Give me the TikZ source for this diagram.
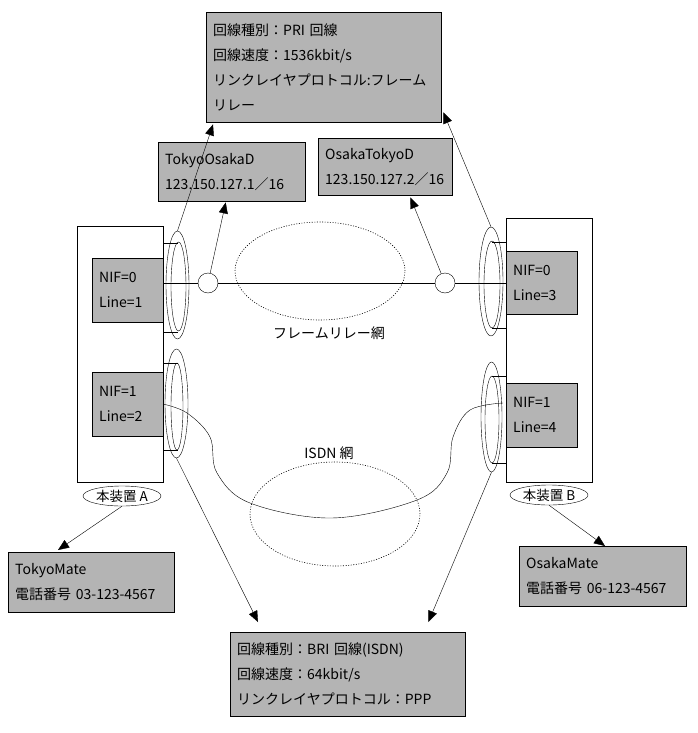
\documentclass[tikz,border=0pt]{standalone}
\usepackage{fontspec}
\setmainfont{Noto Sans CJK JP}
\usepackage{tikz}
\usetikzlibrary{arrows.meta, positioning, shapes.geometric, calc}
\usepackage{xcolor}
\definecolor{boxgray}{RGB}{180,180,180}

\begin{document}
\begin{tikzpicture}[
    x=1pt, y=-1pt,
    info/.style={
        rectangle, draw, fill=boxgray,
        anchor=north west, align=left,
        inner xsep=7pt, inner ysep=0pt,
        font=\fontsize{14}{25}\selectfont
    },
    dev/.style={rectangle, draw, fill=white, anchor=north west, inner sep=0pt},
    ring/.style={ellipse, draw, inner sep=0pt},
    port/.style={circle, draw, fill=white, minimum size=20pt, inner sep=0pt},
    cloud/.style={ellipse, draw, line width=0.6pt, dash pattern=on 1pt off 1.6pt, inner sep=0pt},
    tag/.style={ellipse, draw, inner sep=0pt, minimum width=78pt, minimum height=20pt,
        font=\fontsize{13.5}{15}\selectfont},
    netlbl/.style={font=\fontsize{14}{15}\selectfont},
    arr/.style={-{Triangle[length=11pt,width=9pt]}}
]
\useasboundingbox (0,0) rectangle (698,733);

% === GERAET A ===

\node[dev, minimum width=86pt, minimum height=256pt] (devA) at (77,226) {};
\node[info, minimum width=71pt, minimum height=64pt, text width=57pt] (nifA0) at (92,258) {NIF=0\\Line=1};
\node[info, minimum width=71pt, minimum height=64pt, text width=57pt] (nifA1) at (92,372) {NIF=1\\Line=2};
\node[tag] (tagA) at (122,496) {本装置 A};

% === GERAET B ===

\node[dev, minimum width=86pt, minimum height=264pt] (devB) at (506,218) {};
\node[info, minimum width=71pt, minimum height=63pt, text width=57pt] (nifB0) at (506,251) {NIF=0\\Line=3};
\node[info, minimum width=71pt, minimum height=64pt, text width=57pt] (nifB1) at (506,383) {NIF=1\\Line=4};
\node[tag] (tagB) at (549,495) {本装置 B};

% === LEITUNGEN ===

\node[ring, minimum width=23pt, minimum height=108pt] (aFo) at (177.5,285) {};
\node[ring, minimum width=15pt, minimum height=89pt] (aFi) at (178.5,286.5) {};
\node[ring, minimum width=23pt, minimum height=109pt] (aIo) at (176.5,403.5) {};
\node[ring, minimum width=12pt, minimum height=87pt] (aIi) at (177,406.5) {};
\node[ring, minimum width=24pt, minimum height=109pt] (bFo) at (491,281.5) {};
\node[ring, minimum width=16pt, minimum height=87pt] (bFi) at (492,284.5) {};
\node[ring, minimum width=21pt, minimum height=110pt] (bIo) at (491.5,417) {};
\node[ring, minimum width=14pt, minimum height=87pt] (bIi) at (492,419.5) {};

\draw (163,243) -- (178,243);
\draw (163,332) -- (178,332);
\draw (163,363) -- (178,363);
\draw (163,450) -- (178,450);
\draw (492,242) -- (506,242);
\draw (492,328) -- (506,328);
\draw (492,376) -- (506,376);
\draw (492,463) -- (506,463);

% === NETZE ===

\node[cloud, minimum width=170pt, minimum height=98pt] (frNet) at (320,271) {};
\node[cloud, minimum width=170pt, minimum height=104pt] (isdnNet) at (335,514) {};
\node[netlbl] (frLbl) at (329,333) {フレームリレー網};
\node[netlbl] (isdnLbl) at (329,453) {ISDN 網};

\coordinate (frA) at (163,283);
\coordinate (frB) at (506,283);
\node[port] (cirA) at (208,283) {};
\node[port] (cirB) at (445,283) {};
\draw (frA) -- (cirA);
\draw (cirA) -- (cirB);
\draw (cirB) -- (frB);

\coordinate (isA) at (163,404);
\coordinate (isB) at (503,403);
\draw plot[smooth, tension=0.6] coordinates {(isA) (187,413) (210,437) (217,473) (250,503)
    (332,518) (417,500) (447,473) (453,437) (470,410) (isB)};

% === INFO ===

\node[info, minimum width=235pt, minimum height=110pt, text width=221pt] (pri) at (206,12) {%
回線種別：PRI 回線\\
回線速度：1536kbit/s\\
リンクレイヤプロトコル:フレーム\\
リレー};

\node[info, minimum width=147pt, minimum height=59pt, text width=133pt] (tod) at (158,142) {%
TokyoOsakaD\\
123.150.127.1／16};

\node[info, minimum width=134pt, minimum height=57pt, text width=120pt] (otd) at (318,138) {%
OsakaTokyoD\\
123.150.127.2／16};

\node[info, minimum width=166pt, minimum height=60pt, text width=152pt] (tmate) at (8,552) {%
TokyoMate\\
電話番号 03-123-4567};

\node[info, minimum width=167pt, minimum height=60pt, text width=153pt] (omate) at (519,546) {%
OsakaMate\\
電話番号 06-123-4567};

\node[info, minimum width=235pt, minimum height=84pt, text width=221pt] (bri) at (230,632) {%
回線種別：BRI 回線(ISDN)\\
回線速度：64kbit/s\\
リンクレイヤプロトコル：PPP};

% === PFEILE ===

\draw[arr] (aFo.north) -- ($(pri.south west)+(7,2)$);
\draw[arr] (bFo.north) -- ($(pri.south east)+(2,-10)$);
\draw[arr] (cirA) -- ($(tod.south)+(-6,1)$);
\draw[arr] (cirB) -- ($(otd.south east)+(-42,2)$);
\draw[arr] (aIo.south) -- ($(bri.north west)+(28,-10)$);
\draw[arr] (bIo.south) -- ($(bri.north east)+(-37,-10)$);
\draw[arr] (tagA.south) -- ($(tmate.north west)+(50,-2)$);
\draw[arr] (tagB.south) -- ($(omate.north west)+(86,0)$);

\end{tikzpicture}
\end{document}
